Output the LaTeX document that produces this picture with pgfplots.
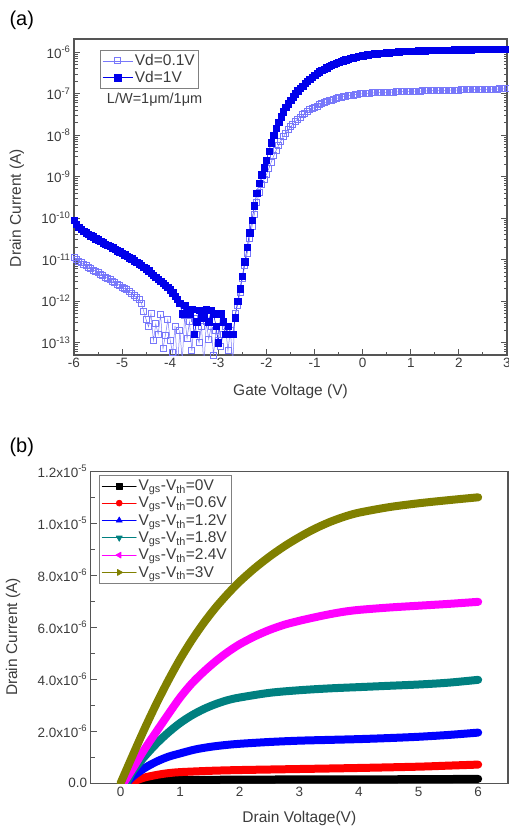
\documentclass[border=0pt]{standalone}
\usepackage{fontspec}
\setmainfont{Liberation Sans}
\usepackage{pgfplots}
\pgfplotsset{compat=1.18}

\definecolor{axisgray}{RGB}{85,85,85}
\definecolor{labelgray}{RGB}{60,60,60}
\definecolor{lowvd}{RGB}{120,120,250}
\definecolor{highvd}{RGB}{0,0,235}
\definecolor{blackc}{RGB}{0,0,0}
\definecolor{redc}{RGB}{255,0,0}
\definecolor{bluec}{RGB}{0,0,255}
\definecolor{tealc}{RGB}{0,128,128}
\definecolor{magc}{RGB}{255,0,255}
\definecolor{olivec}{RGB}{128,128,0}

\newcommand\ticfont{\fontsize{13.5}{15}\selectfont}
\newcommand\labfont{\fontsize{15.5}{18}\selectfont}

% transfer curves: x = gate voltage (V), l = log10 of drain current (A)
\pgfplotstableread{
x l
-6.00 -10.95
-5.95 -11.00
-5.90 -11.05
-5.85 -11.08
-5.80 -11.12
-5.75 -11.15
-5.70 -11.18
-5.65 -11.21
-5.60 -11.25
-5.55 -11.28
-5.50 -11.32
-5.45 -11.35
-5.40 -11.38
-5.35 -11.42
-5.30 -11.45
-5.25 -11.48
-5.20 -11.52
-5.15 -11.55
-5.10 -11.59
-5.05 -11.62
-5.00 -11.66
-4.95 -11.70
-4.90 -11.73
-4.85 -11.77
-4.80 -11.81
-4.75 -11.86
-4.70 -11.92
-4.65 -11.97
-4.60 -12.05
-4.55 -12.25
-4.50 -12.45
-4.45 -12.62
-4.40 -12.30
-4.35 -12.95
-4.30 -12.55
-4.25 -12.80
-4.20 -12.32
-4.15 -13.15
-4.10 -12.82
-4.05 -12.45
-4.00 -12.95
-3.95 -13.25
-3.90 -12.60
-3.85 -13.60
-3.80 -12.70
-3.75 -13.45
-3.70 -12.35
-3.65 -12.90
-3.60 -12.50
-3.55 -13.20
-3.50 -12.42
-3.45 -12.80
-3.40 -13.00
-3.35 -12.60
-3.30 -13.60
-3.25 -12.50
-3.20 -12.92
-3.15 -12.62
-3.10 -13.30
-3.05 -12.70
-3.00 -12.95
-2.95 -13.10
-2.90 -12.80
-2.85 -12.62
-2.80 -13.20
-2.75 -12.70
-2.70 -13.50
-2.65 -12.30
-2.60 -12.10
-2.55 -11.80
-2.50 -11.45
-2.45 -11.15
-2.40 -10.85
-2.35 -10.50
-2.30 -10.20
-2.25 -9.90
-2.20 -9.62
-2.15 -9.38
-2.10 -9.18
-2.05 -9.07
-2.00 -8.95
-1.95 -8.80
-1.90 -8.65
-1.85 -8.50
-1.80 -8.37
-1.75 -8.25
-1.70 -8.14
-1.65 -8.04
-1.60 -7.95
-1.55 -7.87
-1.50 -7.80
-1.45 -7.73
-1.40 -7.67
-1.35 -7.61
-1.30 -7.56
-1.25 -7.51
-1.20 -7.47
-1.15 -7.43
-1.10 -7.39
-1.05 -7.36
-1.00 -7.33
-0.95 -7.30
-0.90 -7.27
-0.85 -7.245
-0.80 -7.22
-0.75 -7.195
-0.70 -7.17
-0.65 -7.15
-0.60 -7.13
-0.55 -7.115
-0.50 -7.10
-0.45 -7.085
-0.40 -7.07
-0.35 -7.06
-0.30 -7.05
-0.25 -7.04
-0.20 -7.03
-0.15 -7.02
-0.10 -7.01
-0.05 -7.005
0.00 -7.00
0.05 -6.995
0.10 -6.99
0.15 -6.985
0.20 -6.98
0.25 -6.978
0.30 -6.975
0.35 -6.972
0.40 -6.97
0.45 -6.967
0.50 -6.965
0.55 -6.962
0.60 -6.96
0.65 -6.957
0.70 -6.955
0.75 -6.952
0.80 -6.95
0.85 -6.948
0.90 -6.945
0.95 -6.942
1.00 -6.94
1.05 -6.938
1.10 -6.937
1.15 -6.935
1.20 -6.934
1.25 -6.932
1.30 -6.931
1.35 -6.929
1.40 -6.928
1.45 -6.926
1.50 -6.925
1.55 -6.923
1.60 -6.922
1.65 -6.920
1.70 -6.919
1.75 -6.917
1.80 -6.916
1.85 -6.914
1.90 -6.913
1.95 -6.911
2.00 -6.910
2.05 -6.908
2.10 -6.907
2.15 -6.905
2.20 -6.904
2.25 -6.902
2.30 -6.901
2.35 -6.899
2.40 -6.898
2.45 -6.896
2.50 -6.895
2.55 -6.893
2.60 -6.892
2.65 -6.890
2.70 -6.889
2.75 -6.887
2.80 -6.886
2.85 -6.884
2.90 -6.883
2.95 -6.881
3.00 -6.880
}\vdlow

\pgfplotstableread{
x l
-6.00 -10.05
-5.95 -10.15
-5.90 -10.22
-5.85 -10.27
-5.80 -10.31
-5.75 -10.35
-5.70 -10.38
-5.65 -10.42
-5.60 -10.45
-5.55 -10.49
-5.50 -10.52
-5.45 -10.55
-5.40 -10.59
-5.35 -10.62
-5.30 -10.65
-5.25 -10.68
-5.20 -10.71
-5.15 -10.75
-5.10 -10.78
-5.05 -10.81
-5.00 -10.85
-4.95 -10.88
-4.90 -10.92
-4.85 -10.95
-4.80 -10.98
-4.75 -11.02
-4.70 -11.06
-4.65 -11.10
-4.60 -11.14
-4.55 -11.18
-4.50 -11.22
-4.45 -11.27
-4.40 -11.32
-4.35 -11.37
-4.30 -11.42
-4.25 -11.47
-4.20 -11.52
-4.15 -11.57
-4.10 -11.62
-4.05 -11.67
-4.00 -11.72
-3.95 -11.80
-3.90 -11.88
-3.85 -11.95
-3.80 -12.05
-3.75 -12.30
-3.70 -12.10
-3.65 -12.20
-3.60 -12.32
-3.55 -12.20
-3.50 -12.80
-3.45 -12.50
-3.40 -12.22
-3.35 -12.40
-3.30 -12.30
-3.25 -12.20
-3.20 -12.50
-3.15 -12.22
-3.10 -12.30
-3.05 -12.60
-3.00 -13.00
-2.95 -12.30
-2.90 -12.50
-2.85 -12.80
-2.80 -12.60
-2.75 -12.80
-2.70 -12.80
-2.65 -12.40
-2.60 -12.00
-2.55 -11.70
-2.50 -11.40
-2.45 -11.05
-2.40 -10.70
-2.35 -10.35
-2.30 -10.05
-2.25 -9.70
-2.20 -9.40
-2.15 -9.15
-2.10 -8.95
-2.05 -8.78
-2.00 -8.60
-1.95 -8.38
-1.90 -8.18
-1.85 -8.00
-1.80 -7.83
-1.75 -7.68
-1.70 -7.55
-1.65 -7.43
-1.60 -7.33
-1.55 -7.24
-1.50 -7.15
-1.45 -7.07
-1.40 -7.00
-1.35 -6.93
-1.30 -6.87
-1.25 -6.81
-1.20 -6.75
-1.15 -6.70
-1.10 -6.65
-1.05 -6.60
-1.00 -6.55
-0.95 -6.51
-0.90 -6.47
-0.85 -6.43
-0.80 -6.40
-0.75 -6.37
-0.70 -6.34
-0.65 -6.31
-0.60 -6.29
-0.55 -6.26
-0.50 -6.24
-0.45 -6.22
-0.40 -6.20
-0.35 -6.18
-0.30 -6.16
-0.25 -6.145
-0.20 -6.13
-0.15 -6.115
-0.10 -6.10
-0.05 -6.09
0.00 -6.08
0.05 -6.07
0.10 -6.06
0.15 -6.05
0.20 -6.04
0.25 -6.035
0.30 -6.03
0.35 -6.025
0.40 -6.02
0.45 -6.015
0.50 -6.01
0.55 -6.005
0.60 -6.00
0.65 -5.995
0.70 -5.99
0.75 -5.985
0.80 -5.98
0.85 -5.978
0.90 -5.975
0.95 -5.972
1.00 -5.970
1.05 -5.968
1.10 -5.966
1.15 -5.964
1.20 -5.962
1.25 -5.960
1.30 -5.958
1.35 -5.956
1.40 -5.955
1.45 -5.953
1.50 -5.952
1.55 -5.950
1.60 -5.949
1.65 -5.948
1.70 -5.946
1.75 -5.945
1.80 -5.944
1.85 -5.942
1.90 -5.941
1.95 -5.940
2.00 -5.939
2.05 -5.938
2.10 -5.936
2.15 -5.935
2.20 -5.934
2.25 -5.933
2.30 -5.932
2.35 -5.931
2.40 -5.930
2.45 -5.929
2.50 -5.928
2.55 -5.927
2.60 -5.926
2.65 -5.925
2.70 -5.924
2.75 -5.923
2.80 -5.922
2.85 -5.921
2.90 -5.920
2.95 -5.920
3.00 -5.920
}\vdhigh

\begin{document}
\begin{tikzpicture}
\useasboundingbox (0pt,0pt) rectangle (509pt,-828pt);

\node[anchor=west,font=\fontsize{20}{22}\selectfont] at (6pt,-20pt) {(a)};
\node[anchor=west,font=\fontsize{20}{22}\selectfont] at (6pt,-447pt) {(b)};

\begin{axis}[
  at={(74pt,-355pt)}, anchor=south west,
  scale only axis, width=433pt, height=316pt,
  xmin=-6, xmax=3, ymin=-13.3, ymax=-5.68,
  xtick={-6,-5,-4,-3,-2,-1,0,1,2,3},
  xticklabels={-6,-5,-4,-3,-2,-1,0,1,2,3},
  minor xtick={-5.5,-4.5,-3.5,-2.5,-1.5,-0.5,0.5,1.5,2.5},
  ytick={-13,-12,-11,-10,-9,-8,-7,-6},
  yticklabels={10\textsuperscript{-13},10\textsuperscript{-12},10\textsuperscript{-11},10\textsuperscript{-10},10\textsuperscript{-9},10\textsuperscript{-8},10\textsuperscript{-7},10\textsuperscript{-6}},
  minor ytick={-13.222,-13.155,-13.097,-13.046,
    -12.699,-12.523,-12.398,-12.301,-12.222,-12.155,-12.097,-12.046,
    -11.699,-11.523,-11.398,-11.301,-11.222,-11.155,-11.097,-11.046,
    -10.699,-10.523,-10.398,-10.301,-10.222,-10.155,-10.097,-10.046,
    -9.699,-9.523,-9.398,-9.301,-9.222,-9.155,-9.097,-9.046,
    -8.699,-8.523,-8.398,-8.301,-8.222,-8.155,-8.097,-8.046,
    -7.699,-7.523,-7.398,-7.301,-7.222,-7.155,-7.097,-7.046,
    -6.699,-6.523,-6.398,-6.301,-6.222,-6.155,-6.097,-6.046,-5.699},
  tick align=inside, xtick pos=left, ytick pos=both, yticklabel pos=left,
  major tick length=6pt, minor tick length=3.5pt,
  axis line style={draw=axisgray, line width=1.3pt},
  every tick/.style={axisgray, line width=0.9pt},
  tick label style={font=\ticfont, text=labelgray},
  xlabel={Gate Voltage (V)}, ylabel={Drain Current (A)},
  label style={font=\labfont, text=labelgray},
  xlabel style={at={(axis description cs:0.5,-0.117)}, anchor=center},
  ylabel style={at={(axis description cs:-0.132,0.465)}, anchor=center},
  legend style={at={(axis description cs:0.06,0.965)}, anchor=north west,
    draw=gray, line width=0.8pt, font=\labfont, text=labelgray,
    inner sep=2pt, row sep=0pt},
  legend cell align=left,
  legend image code/.code={\draw[mark repeat=2,mark phase=2,#1]
    plot coordinates {(0pt,0pt) (15pt,0pt) (30pt,0pt)};},
]
\addplot[lowvd, line width=0.5pt, mark=square, mark size=3pt,
  mark options={line width=0.9pt}] table[x=x,y=l] {\vdlow};
\addlegendentry{Vd=0.1V}
\addplot[highvd, line width=0.5pt, mark=square*, mark size=3.2pt,
  mark options={draw=highvd, fill=highvd, line width=0.3pt}] table[x=x,y=l] {\vdhigh};
\addlegendentry{Vd=1V}
\node[anchor=west, font=\fontsize{14.5}{16}\selectfont, text=labelgray]
  at (axis description cs:0.068,0.807) {L/W=1μm/1μm};
\end{axis}

\begin{axis}[
  at={(90.7pt,-783.3pt)}, anchor=south west,
  scale only axis, width=417.3pt, height=312pt,
  xmin=-0.5, xmax=6.5, ymin=0, ymax=12,
  xtick={0,1,2,3,4,5,6}, xticklabels={0,1,2,3,4,5,6},
  ytick={0,2,4,6,8,10,12}, minor ytick={1,3,5,7,9,11},
  yticklabels={0.0,2.0x10\textsuperscript{-6},4.0x10\textsuperscript{-6},6.0x10\textsuperscript{-6},8.0x10\textsuperscript{-6},1.0x10\textsuperscript{-5},1.2x10\textsuperscript{-5}},
  tick align=inside, xtick pos=left, ytick pos=left,
  major tick length=6pt, minor tick length=4pt,
  xtick style={draw=none},
  axis line style={draw=axisgray, line width=1.3pt},
  every tick/.style={axisgray, line width=0.9pt},
  tick label style={font=\ticfont, text=labelgray},
  xlabel={Drain Voltage(V)}, ylabel={Drain Current (A)},
  label style={font=\labfont, text=labelgray},
  xlabel style={at={(axis description cs:0.5,-0.114)}, anchor=center},
  ylabel style={at={(axis description cs:-0.186,0.469)}, anchor=center},
  legend style={at={(axis description cs:0.02,0.989)}, anchor=north west,
    draw=gray, line width=0.8pt, font=\labfont, text=labelgray,
    inner sep=2.5pt, row sep=1pt},
  legend cell align=left,
  legend image code/.code={\draw[mark repeat=2,mark phase=2,#1]
    plot coordinates {(0pt,0pt) (17pt,0pt) (34pt,0pt)};},
  every axis plot/.append style={line width=8pt, line cap=round, line join=round},
]
\addplot[blackc, forget plot, smooth] coordinates {(0.2,0) (0.4,0.05) (0.6,0.09) (0.8,0.12) (1.0,0.13) (2.0,0.14) (3.0,0.15) (4.0,0.15) (5.0,0.16) (6.0,0.17)};
\addplot[redc, forget plot, smooth] coordinates {(0.15,0) (0.25,0.1) (0.4,0.22) (0.6,0.32) (0.8,0.39) (1.0,0.43) (1.5,0.48) (2.0,0.51) (3.0,0.55) (4.0,0.59) (5.0,0.64) (5.5,0.68) (6.0,0.72)};
\addplot[bluec, forget plot, smooth] coordinates {(0.1,0) (0.2,0.25) (0.4,0.58) (0.6,0.83) (0.8,1.02) (1.0,1.15) (1.25,1.3) (1.5,1.4) (1.75,1.47) (2.0,1.52) (2.5,1.59) (3.0,1.64) (3.5,1.67) (4.0,1.7) (4.5,1.74) (5.0,1.79) (5.5,1.86) (6.0,1.95)};
\addplot[tealc, forget plot, smooth] coordinates {(0.1,0) (0.2,0.45) (0.4,1.02) (0.6,1.52) (0.8,1.95) (1.0,2.32) (1.2,2.62) (1.4,2.86) (1.6,3.05) (1.8,3.2) (2.0,3.3) (2.5,3.48) (3.0,3.58) (3.5,3.65) (4.0,3.7) (4.5,3.75) (5.0,3.8) (5.5,3.87) (6.0,3.98)};
\addplot[magc, forget plot, smooth] coordinates {(0.05,0) (0.2,0.55) (0.4,1.3) (0.6,1.98) (0.8,2.65) (1.0,3.3) (1.2,3.85) (1.4,4.3) (1.6,4.7) (1.8,5.05) (2.0,5.35) (2.25,5.65) (2.5,5.9) (2.75,6.1) (3.0,6.25) (3.25,6.38) (3.5,6.5) (3.75,6.6) (4.0,6.67) (4.5,6.76) (5.0,6.83) (5.5,6.9) (6.0,6.98)};
\addplot[olivec, forget plot, smooth] coordinates {(0.0,0) (0.2,1.05) (0.4,2.08) (0.6,3.05) (0.8,3.95) (1.0,4.78) (1.2,5.52) (1.4,6.18) (1.6,6.77) (1.8,7.29) (2.0,7.76) (2.25,8.27) (2.5,8.72) (2.75,9.12) (3.0,9.47) (3.25,9.78) (3.5,10.04) (3.75,10.25) (4.0,10.41) (4.5,10.62) (5.0,10.77) (5.5,10.89) (6.0,11.0)};

\addlegendimage{blackc, line width=0.6pt, mark=square*, mark size=3pt}
\addlegendentry{V\textsubscript{gs}-V\textsubscript{th}=0V}
\addlegendimage{redc, line width=0.6pt, mark=*, mark size=3pt}
\addlegendentry{V\textsubscript{gs}-V\textsubscript{th}=0.6V}
\addlegendimage{bluec, line width=0.6pt, mark=triangle*, mark size=3.5pt}
\addlegendentry{V\textsubscript{gs}-V\textsubscript{th}=1.2V}
\addlegendimage{tealc, line width=0.6pt, mark=triangle*, mark size=3.5pt, mark options={rotate=180}}
\addlegendentry{V\textsubscript{gs}-V\textsubscript{th}=1.8V}
\addlegendimage{magc, line width=0.6pt, mark=triangle*, mark size=3.5pt, mark options={rotate=90}}
\addlegendentry{V\textsubscript{gs}-V\textsubscript{th}=2.4V}
\addlegendimage{olivec, line width=0.6pt, mark=triangle*, mark size=3.5pt, mark options={rotate=-90}}
\addlegendentry{V\textsubscript{gs}-V\textsubscript{th}=3V}
\end{axis}
\end{tikzpicture}
\end{document}
